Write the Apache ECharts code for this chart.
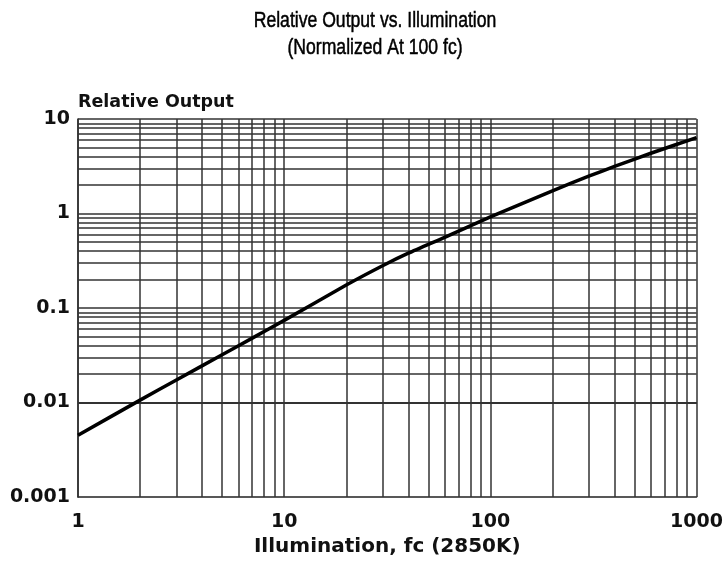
<!DOCTYPE html>
<html>
<head>
<meta charset="utf-8">
<script src="https://cdn.jsdelivr.net/npm/echarts@6/dist/echarts.min.js"></script>
<style>html,body{margin:0;padding:0;background:#fff}#c{width:726px;height:563px}</style>
</head>
<body>
<div id="c"></div>
<script>
// Data
const illumination = [1, 2, 3, 5, 7, 10, 20, 30, 40, 60, 100, 200, 300, 400, 600, 1000];
const relativeOutput = [0.0045, 0.0106, 0.0173, 0.032, 0.048, 0.074, 0.175, 0.28, 0.38, 0.56, 0.92, 1.74, 2.48, 3.15, 4.34, 6.35];
const xTickLabels = ['1', '10', '100', '1000'];
const yTickLabels = ['0.001', '0.01', '0.1', '1', '10'];
const xDecades = [1, 10, 100];
const yDecades = [0.001, 0.01, 0.1, 1];
const minorSteps = [2, 3, 4, 5, 6, 7, 8, 9];
const titleLines = ['Relative Output vs. Illumination', '(Normalized At 100 fc)'];

const gridLines = [];
xDecades.forEach(d => minorSteps.forEach(s => gridLines.push({ xAxis: +(d * s).toPrecision(6) })));
yDecades.forEach(d => minorSteps.forEach(s => gridLines.push({ yAxis: +(d * s).toPrecision(6) })));
[1, 10, 100, 1000].forEach(v => gridLines.push({ xAxis: v }));
[0.001, 0.01, 0.1, 1, 10].forEach(v => gridLines.push({ yAxis: v }));

const fmt = (list) => (v) => {
  const s = list.find(t => Math.abs(Math.log10(+t) - Math.log10(v)) < 1e-6);
  return s || '';
};

const titleFont = { fontFamily: '"Liberation Sans", Arial, sans-serif', fontSize: 22, fill: '#000', stroke: '#000', lineWidth: 0.5 };

const chart = echarts.init(document.getElementById('c'), null, { renderer: 'canvas' });
chart.setOption({
  animation: false,
  backgroundColor: '#fff',
  graphic: [
    { type: 'text', x: 375, y: 21, scaleX: 0.8, style: Object.assign({ text: titleLines[0], align: 'center', verticalAlign: 'middle' }, titleFont) },
    { type: 'text', x: 375, y: 48, scaleX: 0.8, style: Object.assign({ text: titleLines[1], align: 'center', verticalAlign: 'middle' }, titleFont) }
  ],
  grid: { left: 78, right: 28, top: 119, bottom: 66 },
  xAxis: {
    type: 'log', logBase: 10, min: 1, max: 1000,
    name: 'Illumination, fc (2850K)', nameLocation: 'middle', nameGap: 38,
    nameTextStyle: { fontFamily: 'DejaVu Sans', fontWeight: 'bold', fontSize: 20, color: '#111' },
    axisLine: { show: true, lineStyle: { color: '#222', width: 1.5 } },
    axisTick: { show: false },
    axisLabel: { formatter: fmt(xTickLabels), margin: 16, fontFamily: 'DejaVu Sans', fontWeight: 'bold', fontSize: 19, color: '#111' },
    splitLine: { show: false }
  },
  yAxis: {
    type: 'log', logBase: 10, min: 0.001, max: 10,
    name: 'Relative Output', nameLocation: 'end', nameGap: 8,
    nameTextStyle: { fontFamily: 'DejaVu Sans', fontWeight: 'bold', fontSize: 17.5, color: '#111', align: 'left' },
    axisLine: { show: true, lineStyle: { color: '#222', width: 1.5 } },
    axisTick: { show: false },
    axisLabel: { formatter: fmt(yTickLabels), margin: 8, fontFamily: 'DejaVu Sans', fontWeight: 'bold', fontSize: 19, color: '#111' },
    splitLine: { show: false }
  },
  series: [
    {
      type: 'line', data: [], z: 1, silent: true,
      markLine: {
        z: 1, silent: true, symbol: ['none', 'none'], animation: false,
        label: { show: false },
        lineStyle: { color: '#333', width: 1.5, type: 'solid' },
        emphasis: { disabled: true },
        data: gridLines
      }
    },
    {
      type: 'line', z: 5,
      data: illumination.map((x, i) => [x, relativeOutput[i]]),
      smooth: 0.2, showSymbol: false,
      lineStyle: { color: '#000', width: 3.5 }
    }
  ]
});
</script>
</body>
</html>
